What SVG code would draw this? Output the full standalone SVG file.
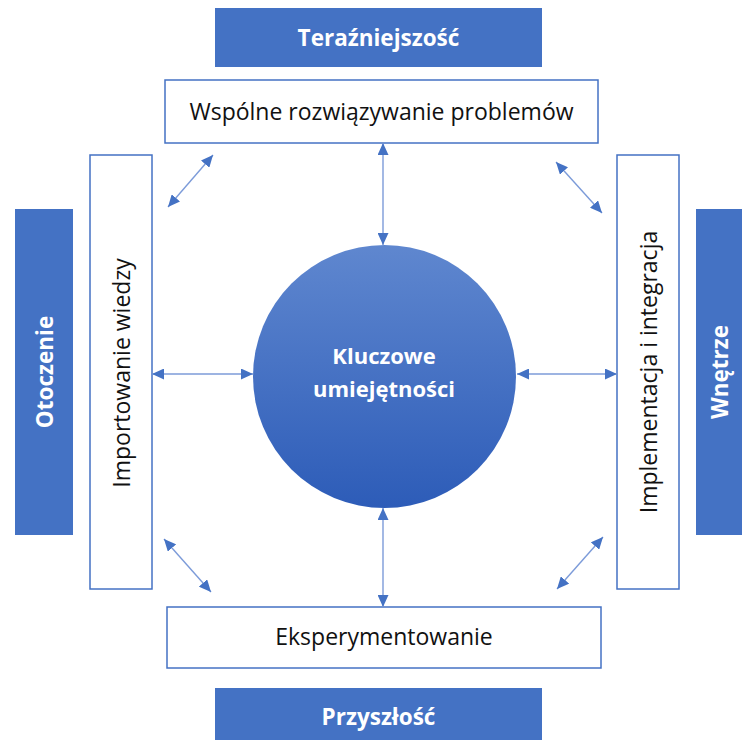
<svg xmlns="http://www.w3.org/2000/svg" width="742" height="740" viewBox="0 0 742 740">
  <style>
    .band { fill: #4472c4; }
    .band-text { font-family: "Open Sans", "Noto Sans", sans-serif; font-weight: bold; font-size: 22.5px; fill: #ffffff; text-anchor: middle; dominant-baseline: central; }
    .box { fill: #ffffff; stroke: #4472c4; stroke-width: 1.5; }
    .box-text { font-family: "Open Sans", "Noto Sans", sans-serif; font-size: 23px; fill: #111111; text-anchor: middle; dominant-baseline: central; }
    .core-text { font-family: "Open Sans", "Noto Sans", sans-serif; font-weight: bold; font-size: 22px; fill: #ffffff; text-anchor: middle; }
    .link { stroke: #7c9bd9; stroke-width: 1.4; fill: none; marker-start: url(#head); marker-end: url(#head); }
  </style>
  <defs>
    <linearGradient id="coreFill" x1="0" y1="0" x2="0" y2="1">
      <stop offset="0" stop-color="#5f87cf"/>
      <stop offset="1" stop-color="#2d5cb8"/>
    </linearGradient>
    <marker id="head" markerUnits="userSpaceOnUse" markerWidth="13" markerHeight="11" refX="12" refY="5.5" orient="auto-start-reverse" viewBox="0 0 13 11">
      <path d="M0,0 L12,5.5 L0,11 z" fill="#4472c4"/>
    </marker>
  </defs>

  <rect width="742" height="740" fill="#ffffff"/>

  <!-- outer context bands -->
  <g id="band-present">
    <rect class="band" x="215" y="8" width="327" height="59"/>
    <text class="band-text" x="378.5" y="37">Teraźniejszość</text>
  </g>
  <g id="band-future">
    <rect class="band" x="215" y="688" width="327" height="60"/>
    <text class="band-text" x="378.5" y="716">Przyszłość</text>
  </g>
  <g id="band-environment">
    <rect class="band" x="15" y="209" width="58" height="326"/>
    <text class="band-text" transform="translate(44 372) rotate(-90)">Otoczenie</text>
  </g>
  <g id="band-interior">
    <rect class="band" x="696" y="209" width="58" height="326"/>
    <text class="band-text" transform="translate(719 372) rotate(-90)">Wnętrze</text>
  </g>

  <!-- activity boxes -->
  <g id="box-problem-solving">
    <rect class="box" x="165" y="80" width="433" height="63"/>
    <text class="box-text" x="381.5" y="111">Wspólne rozwiązywanie problemów</text>
  </g>
  <g id="box-experimenting">
    <rect class="box" x="167" y="607" width="434" height="61"/>
    <text class="box-text" x="384" y="636">Eksperymentowanie</text>
  </g>
  <g id="box-knowledge-import">
    <rect class="box" x="90" y="155" width="62" height="434"/>
    <text class="box-text" transform="translate(121 373) rotate(-90)">Importowanie wiedzy</text>
  </g>
  <g id="box-implementation">
    <rect class="box" x="617" y="155" width="62" height="434"/>
    <text class="box-text" transform="translate(648 372) rotate(-90)">Implementacja i integracja</text>
  </g>

  <!-- central node -->
  <g id="core-skills">
    <circle cx="384.5" cy="376.5" r="131.5" fill="url(#coreFill)"/>
    <text class="core-text" x="384" y="364">Kluczowe</text>
    <text class="core-text" x="384" y="397">umiejętności</text>
  </g>

  <!-- two-way connectors -->
  <g id="connectors">
    <line class="link" x1="383" y1="143" x2="383" y2="245"/>
    <line class="link" x1="383" y1="508" x2="383" y2="607"/>
    <line class="link" x1="152" y1="374" x2="253" y2="374"/>
    <line class="link" x1="517" y1="374" x2="617" y2="374"/>
    <line class="link" x1="168" y1="207" x2="213" y2="155"/>
    <line class="link" x1="556" y1="162" x2="602" y2="213"/>
    <line class="link" x1="164" y1="539" x2="211" y2="592"/>
    <line class="link" x1="603" y1="537" x2="557" y2="589"/>
  </g>
</svg>
